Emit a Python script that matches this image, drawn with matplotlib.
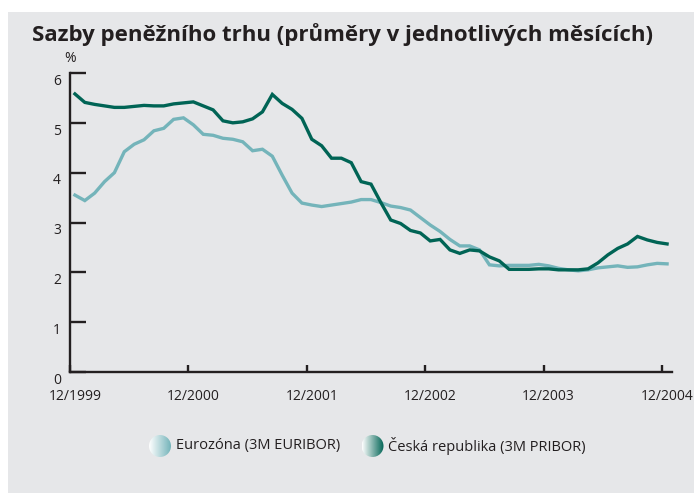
import numpy as np
import matplotlib
matplotlib.use('Agg')
import matplotlib.pyplot as plt
from matplotlib.patches import Rectangle, Circle
from matplotlib.colors import LinearSegmentedColormap
from matplotlib.transforms import ScaledTranslation

# monthly averages, 12/1999 .. 12/2004
euribor = [3.55, 3.44, 3.59, 3.82, 4.00, 4.42, 4.57, 4.66, 4.84, 4.89, 5.07, 5.10,
           4.96, 4.77, 4.75, 4.69, 4.67, 4.62, 4.44, 4.47, 4.33, 3.95, 3.59, 3.39,
           3.35, 3.32, 3.35, 3.38, 3.41, 3.46, 3.46, 3.40, 3.33, 3.30, 3.25, 3.10,
           2.95, 2.82, 2.66, 2.53, 2.53, 2.45, 2.15, 2.13, 2.14, 2.14, 2.14, 2.16,
           2.13, 2.08, 2.05, 2.03, 2.05, 2.09, 2.11, 2.13, 2.10, 2.11, 2.15, 2.18,
           2.17]
pribor = [5.58, 5.41, 5.37, 5.34, 5.31, 5.31, 5.33, 5.35, 5.34, 5.34, 5.38, 5.40,
          5.42, 5.34, 5.26, 5.04, 5.00, 5.02, 5.08, 5.22, 5.57, 5.39, 5.27, 5.09,
          4.67, 4.54, 4.29, 4.29, 4.20, 3.82, 3.77, 3.40, 3.05, 2.98, 2.84, 2.79,
          2.63, 2.66, 2.45, 2.38, 2.45, 2.43, 2.31, 2.23, 2.06, 2.06, 2.06, 2.07,
          2.07, 2.05, 2.05, 2.05, 2.07, 2.19, 2.35, 2.48, 2.57, 2.72, 2.65, 2.60,
          2.57]
year_labels = ['12/1999', '12/2000', '12/2001', '12/2002', '12/2003', '12/2004']
series_names = ['Eurozóna (3M EURIBOR)', 'Česká republika (3M PRIBOR)']

light = '#74b4ba'
dark = '#006455'
ink = '#231f20'
panel = '#e6e7e9'

plt.rcParams['font.family'] = ['Open Sans', 'DejaVu Sans']

fig = plt.figure(figsize=(6.94, 4.93), dpi=100)
fig.patches.append(Rectangle((8 / 694, 0), 1, 1 - 12 / 493, transform=fig.transFigure,
                             facecolor=panel, edgecolor='none', zorder=-10))

fig.text(32 / 694, 1 - 41 / 493, 'Sazby peněžního trhu (průměry v jednotlivých měsících)',
         fontsize=16, fontweight='bold', color=ink, va='baseline', ha='left')

ax = fig.add_axes([70 / 694, 1 - 372 / 493, 602 / 694, 299 / 493])
ax.set_facecolor('none')

x = np.arange(len(euribor)) + 0.5
ax.plot(x, euribor, color=light, lw=2.4, solid_joinstyle='miter')
ax.plot(x, pribor, color=dark, lw=2.4, solid_joinstyle='miter')

ax.set_xlim(0, 61)
ax.set_ylim(0, 6)
for s in ['top', 'right']:
    ax.spines[s].set_visible(False)
for s in ['left', 'bottom']:
    ax.spines[s].set_linewidth(1.7)
    ax.spines[s].set_color(ink)

ax.set_yticks(range(7))
ax.tick_params(axis='y', direction='in', length=11.5, width=1.7, color=ink,
               labelsize=10, labelcolor=ink, pad=6.5)
off = ScaledTranslation(0, -4.5 / 72, fig.dpi_scale_trans)
for lab in ax.get_yticklabels():
    lab.set_transform(lab.get_transform() + off)

ax.set_xticks(np.arange(0, 61, 12))
ax.set_xticklabels([])
ax.set_xticks(np.arange(0, 61, 12) + 0.5, minor=True)
ax.set_xticklabels(year_labels, minor=True)
ax.tick_params(axis='x', which='major', direction='in', length=5, width=1.7, color=ink)
ax.tick_params(axis='x', which='minor', length=0, labelsize=10, labelcolor=ink, pad=12)

fig.text(70.5 / 694, 1 - 58 / 493, '%', fontsize=10, color=ink, ha='center', va='center')

# legend with gradient discs
grad = np.linspace(0, 1, 200)[None, :]
for cx, col, name in [(160, light, series_names[0]), (372.5, dark, series_names[1])]:
    r = 11
    lax = fig.add_axes([(cx - r) / 694, 1 - (446 + r) / 493, 2 * r / 694, 2 * r / 493])
    lax.set_axis_off()
    cmap = LinearSegmentedColormap.from_list('g', ['#ffffff', col])
    im = lax.imshow(grad, extent=[-1, 1, -1, 1], cmap=cmap, aspect='auto')
    lax.set_xlim(-1, 1)
    lax.set_ylim(-1, 1)
    im.set_clip_path(Circle((0, 0), 1, transform=lax.transData))
    fig.text((cx + r + 5) / 694, 1 - 446 / 493, name, fontsize=10.5, color=ink,
             ha='left', va='center')

fig.savefig('out.png', dpi=100)
